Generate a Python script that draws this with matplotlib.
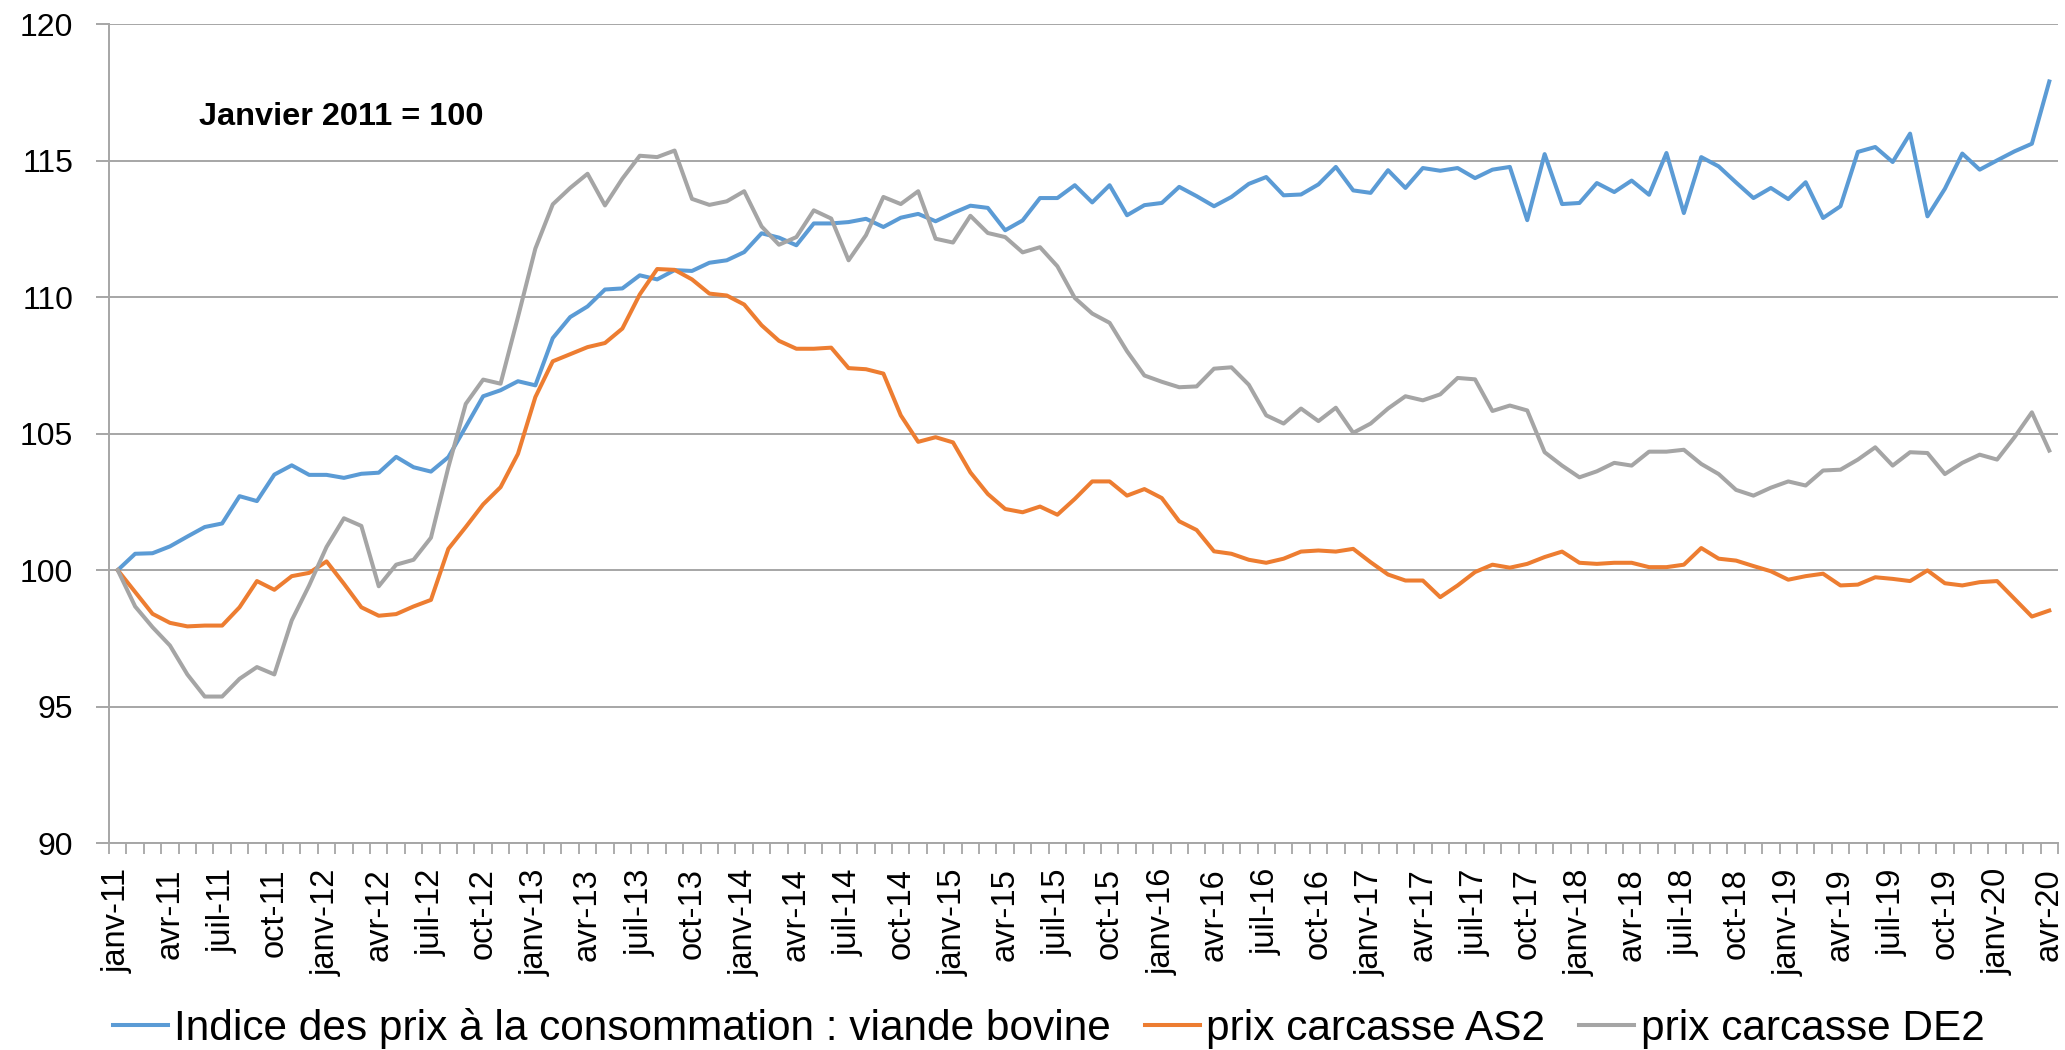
import matplotlib
matplotlib.use("Agg")
import matplotlib.pyplot as plt
import numpy as np

# monthly series, janv-2011 .. avr-2020 (base janvier 2011 = 100)
ipc_viande = [
    100.0, 100.6, 100.62, 100.87, 101.23, 101.58, 101.71, 102.71, 102.53, 103.5, 103.84, 103.49,
    103.49, 103.38, 103.53, 103.57, 104.15, 103.77, 103.61, 104.14, 105.25, 106.37, 106.59, 106.92,
    106.77, 108.5, 109.27, 109.66, 110.28, 110.32, 110.8, 110.65, 110.99, 110.96, 111.26, 111.35,
    111.65, 112.34, 112.18, 111.9, 112.7, 112.7, 112.75, 112.87, 112.57, 112.91, 113.05, 112.78,
    113.08, 113.35, 113.27, 112.45, 112.81, 113.63, 113.63, 114.1, 113.47, 114.1, 113.0, 113.37,
    113.45, 114.04, 113.7, 113.33, 113.67, 114.15, 114.4, 113.73, 113.76, 114.13, 114.77, 113.91,
    113.82, 114.65, 114.0, 114.73, 114.63, 114.73, 114.36, 114.67, 114.77, 112.82, 115.24, 113.41,
    113.45, 114.18, 113.85, 114.27, 113.75, 115.28, 113.08, 115.13, 114.79, 114.2, 113.63, 114.0,
    113.59, 114.21, 112.9, 113.33, 115.32, 115.5, 114.95, 115.99, 112.96, 113.97, 115.26, 114.67,
    115.01, 115.34, 115.62, 117.9,
]
carcasse_as2 = [
    100.0, 99.2, 98.4, 98.07, 97.94, 97.97, 97.97, 98.64, 99.6, 99.28, 99.78, 99.9,
    100.32, 99.5, 98.64, 98.33, 98.39, 98.67, 98.91, 100.78, 101.58, 102.41, 103.04, 104.26,
    106.34, 107.65, 107.91, 108.17, 108.32, 108.85, 110.1, 111.03, 111.0, 110.65, 110.13, 110.06,
    109.73, 108.97, 108.4, 108.11, 108.11, 108.15, 107.4, 107.36, 107.2, 105.67, 104.7, 104.87,
    104.68, 103.58, 102.79, 102.24, 102.12, 102.33, 102.03, 102.61, 103.25, 103.25, 102.73, 102.97,
    102.64, 101.79, 101.47, 100.69, 100.6, 100.38, 100.27, 100.42, 100.68, 100.72, 100.68, 100.78,
    100.29, 99.84, 99.62, 99.62, 99.01, 99.44, 99.93, 100.2, 100.09, 100.23, 100.48, 100.68,
    100.27, 100.23, 100.27, 100.27, 100.11, 100.11, 100.2, 100.81, 100.42, 100.35, 100.15, 99.96,
    99.65, 99.78, 99.87, 99.44, 99.47, 99.74, 99.68, 99.6, 99.99, 99.52, 99.44, 99.56,
    99.6, 98.95, 98.3, 98.52,
]
carcasse_de2 = [
    100.0, 98.67, 97.91, 97.24, 96.18, 95.37, 95.37, 96.02, 96.45, 96.18, 98.16, 99.44,
    100.85, 101.9, 101.62, 99.41, 100.2, 100.38, 101.19, 103.77, 106.09, 106.98, 106.83, 109.27,
    111.78, 113.4, 114.0, 114.52, 113.36, 114.34, 115.18, 115.13, 115.37, 113.6, 113.38, 113.51,
    113.88, 112.59, 111.92, 112.2, 113.18, 112.88, 111.35, 112.27, 113.67, 113.41, 113.88, 112.14,
    112.0, 112.98, 112.35, 112.2, 111.64, 111.83, 111.13, 109.97, 109.4, 109.06, 108.02, 107.13,
    106.9, 106.7, 106.73, 107.38, 107.43, 106.79, 105.67, 105.37, 105.92, 105.46, 105.95, 105.03,
    105.37, 105.92, 106.37, 106.22, 106.44, 107.04, 106.99, 105.83, 106.03, 105.85, 104.32, 103.83,
    103.4, 103.62, 103.93, 103.83, 104.34, 104.34, 104.41, 103.89, 103.52, 102.94, 102.73, 103.02,
    103.25, 103.1, 103.65, 103.68, 104.05, 104.5, 103.83, 104.32, 104.29, 103.52, 103.93, 104.23,
    104.05, 104.87, 105.78, 104.38,
]

mois = ["janv", "févr", "mars", "avr", "mai", "juin",
        "juil", "août", "sept", "oct", "nov", "déc"]
annees = list(range(11, 21))
labels = [f"{m}-{a:02d}" for a in annees for m in mois][:len(ipc_viande)]

series = [
    ("Indice des prix à la consommation : viande bovine", ipc_viande, "#5B9BD5"),
    ("prix carcasse AS2", carcasse_as2, "#ED7D31"),
    ("prix carcasse DE2", carcasse_de2, "#A5A5A5"),
]

font = "Liberation Sans"

fig = plt.figure(figsize=(20.65, 10.5), dpi=100)
ax = fig.add_axes([0.0528, 0.197, 0.9438, 0.780])

x = np.arange(len(ipc_viande))
for name, vals, col in series:
    ax.plot(x, vals, color=col, lw=2.9, label=name)

ax.set_xlim(-0.5, len(x) - 0.5)
ax.set_ylim(90, 120)
ax.set_yticks(np.arange(90, 121, 5))
ax.grid(axis="y", color="#A6A6A6", lw=1.4)
ax.set_axisbelow(True)

for s in ["top", "right"]:
    ax.spines[s].set_visible(False)
for s in ["left", "bottom"]:
    ax.spines[s].set_color("#A6A6A6")
    ax.spines[s].set_linewidth(1.4)

ax.set_xticks(x[::3])
ax.set_xticklabels(labels[::3], rotation=90, fontsize=23.5, family=font)
ax.set_xticks(np.arange(-0.5, len(x), 1), minor=True)
ax.tick_params(axis="x", which="major", length=0, pad=18)
ax.tick_params(axis="x", which="minor", length=8, color="#A6A6A6", width=1.3)
ax.tick_params(axis="y", length=9.4, color="#A6A6A6", width=1.4, pad=16.5, labelsize=23)
for t in ax.get_yticklabels():
    t.set_family(font)

ax.text(0.046, 116.3, "Janvier 2011 = 100", transform=ax.get_yaxis_transform(),
        fontsize=23.4, fontweight="bold", family=font, va="baseline", ha="left")

fig.legend(loc="center", bbox_to_anchor=(0.5078, 0.0205), ncol=3, frameon=False,
           prop={"family": font, "size": 30.5}, handlelength=1.3, handletextpad=0.15,
           columnspacing=0.8, borderpad=0, borderaxespad=0)

fig.savefig("out.png", dpi=100)
